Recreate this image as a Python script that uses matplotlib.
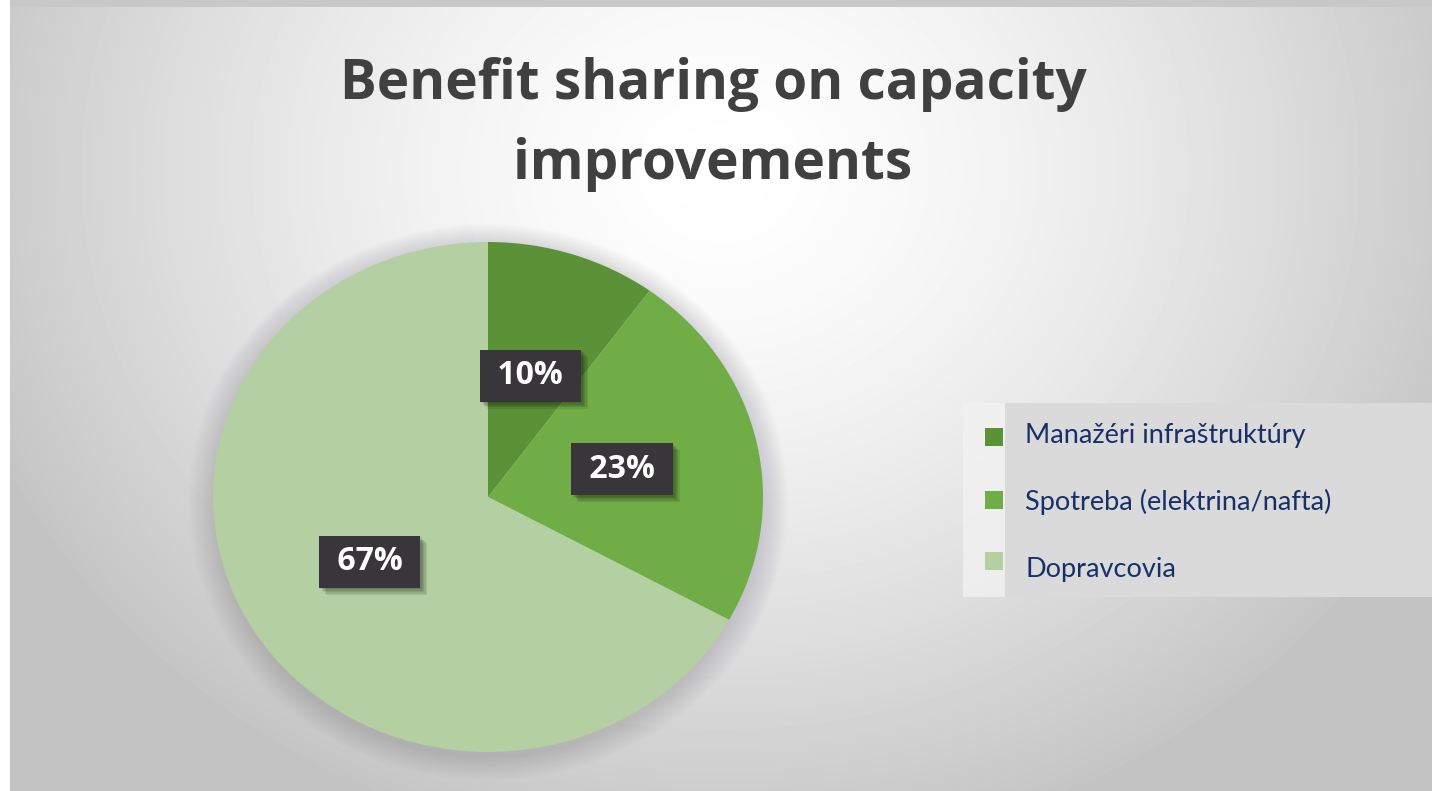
import matplotlib
matplotlib.use("Agg")
import matplotlib.pyplot as plt
import matplotlib.patheffects as pe
import numpy as np
from matplotlib.patches import Ellipse, Rectangle

# data
labels = ["Manažéri infraštruktúry", "Spotreba (elektrina/nafta)", "Dopravcovia"]
shares = [10, 23, 67]
colors = ["#5B9137", "#70AD47", "#B4CFA1"]
title = "Benefit sharing on capacity\nimprovements"

W, H = 1432, 791
fig = plt.figure(figsize=(W / 100, H / 100), dpi=100)

# background: soft radial gradient, grey towards the edges
bg = fig.add_axes([0, 0, 1, 1], zorder=-10)
yy, xx = np.mgrid[0:H, 0:W]
d = np.sqrt(((xx - 720) / 800.0) ** 2 + ((yy - 170) / 700.0) ** 2)
img = 255 - 60 * np.clip(d, 0, 1) ** 1.5
img[:7, :] = 200
img[:, :10] = 255
bg.imshow(img, cmap="gray", vmin=0, vmax=255, extent=(0, W, H, 0), aspect="auto")
bg.set_xlim(0, W)
bg.set_ylim(H, 0)
bg.axis("off")

# title, one text per line so the baselines can be placed
for i, line in enumerate(title.split("\n")):
    fig.text(713 / W, 1 - (99 + 80 * i) / H, line, ha="center", va="baseline",
             fontsize=39.5, fontweight="bold", family="Open Sans", color="#404040")

# pie
ax = fig.add_axes([213 / W, 39 / H, 550 / W, 510 / H])
for s in np.linspace(1.0, 1.09, 14):
    ax.add_patch(Ellipse((0.0, -0.02), 2 * s, 2 * s, facecolor="#707080",
                         edgecolor="none", alpha=0.018, clip_on=False, zorder=0))
wedges, texts, autotexts = ax.pie(
    shares, colors=colors, startangle=90, counterclock=False,
    autopct=lambda p: " %1.0f%% " % p, pctdistance=0.5,
    wedgeprops=dict(linewidth=0, zorder=2))
ax.set_aspect("auto")
ax.set_xlim(-1, 1)
ax.set_ylim(-1, 1)
ax.axis("off")

soft_shadow = [pe.SimplePatchShadow(offset=(o, -o), shadow_rgbFace="black", alpha=0.09)
               for o in (1, 2, 3, 4, 5)] + [pe.Normal()]
for t in autotexts:
    t.set_color("white")
    t.set_fontsize(23)
    t.set_fontweight("bold")
    t.set_family("Open Sans")
    t.set_zorder(5)
    t.set_bbox(dict(boxstyle="square,pad=0.3", facecolor="#38363A", edgecolor="none"))
    t.get_bbox_patch().set_path_effects(soft_shadow)

# legend panel
fig.patches.append(Rectangle((963 / W, 1 - 597 / H), 42 / W, 194 / H,
                             transform=fig.transFigure, facecolor="#F2F2F2",
                             edgecolor="none", alpha=0.8, zorder=1))
fig.patches.append(Rectangle((1005 / W, 1 - 597 / H), 427 / W, 194 / H,
                             transform=fig.transFigure, facecolor="#DADADA",
                             edgecolor="none", zorder=1))
marker_y = [437, 500, 561]
text_base = [443, 510, 577]
for lab, col, my, ty in zip(labels, colors, marker_y, text_base):
    fig.patches.append(Rectangle((985 / W, 1 - (my + 9) / H), 18 / W, 18 / H,
                                 transform=fig.transFigure, facecolor=col,
                                 edgecolor="none", zorder=2))
    fig.text(1025 / W, 1 - ty / H, lab, ha="left", va="baseline",
             fontsize=19.5, family="Lato", color="#17306B", zorder=3)

fig.savefig("out.png", dpi=100)
